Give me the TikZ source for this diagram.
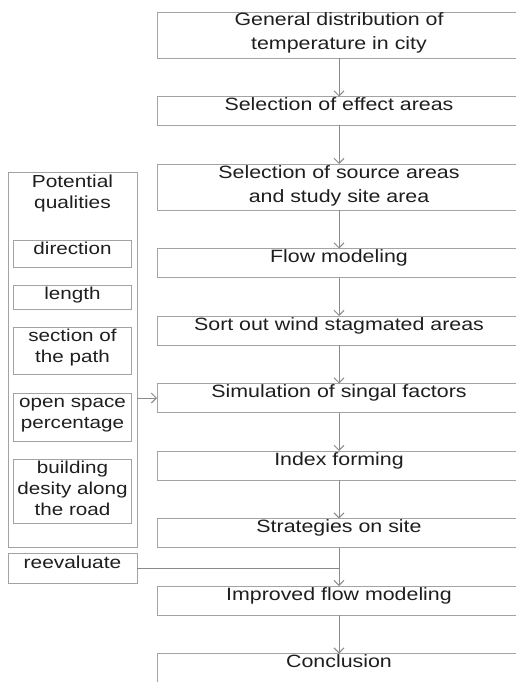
\documentclass[tikz,border=0pt]{standalone}
\usepackage{fontspec}
\setmainfont{Liberation Sans}[FakeStretch=1.2]
\usepackage{tikz}
\usetikzlibrary{arrows.meta,positioning}
\definecolor{edge}{HTML}{A3A3A3}
\definecolor{wire}{HTML}{8A8A8A}
\definecolor{ink}{HTML}{1E1E1E}

\begin{document}
\begin{tikzpicture}[
  node distance=38.5pt,
  stage/.style={draw=edge,line width=0.8pt,outer sep=0pt,anchor=north,align=center,text width=360pt,inner xsep=2pt,inner ysep=1pt,text height=13pt,text depth=#1,text=ink,font=\fontsize{17.8}{24}\selectfont},
  stage/.default=14pt,
  quality/.style={draw=edge,line width=0.8pt,outer sep=0pt,align=center,text width=114pt,inner xsep=2pt,inner ysep=1pt,text height=13pt,text depth=#1,text=ink,font=\fontsize{17.2}{21}\selectfont},
  panelbox/.style={draw=edge,line width=0.8pt,outer sep=0pt,align=center,text width=125pt,inner xsep=2pt,inner ysep=1pt,text height=14pt,text depth=#1,text=ink,font=\fontsize{17.4}{21}\selectfont},
  arr/.style={-{Straight Barb[length=5pt,width=10pt]},line width=1pt,draw=wire},
  wire/.style={line width=1pt,draw=wire}
]
\useasboundingbox (0,0) rectangle (516pt,-682pt);
% main chain
\node[stage=31pt,anchor=north] (temp) at (339pt,-12pt) {General distribution of\\temperature in city};
\node[stage,below=of temp] (effect) {Selection of effect areas};
\node[stage=31pt,below=of effect] (source) {Selection of source areas\\and study site area};
\node[stage,below=of source] (flow) {Flow modeling};
\node[stage,below=of flow] (stag) {Sort out wind stagmated areas};
\node[stage,below=of stag] (sim) {Simulation of singal factors};
\node[stage,below=of sim] (index) {Index forming};
\node[stage,below=of index] (strat) {Strategies on site};
\node[stage,below=of strat] (improved) {Improved flow modeling};
\node[stage,below=of improved] (concl) {Conclusion};
% left panel
\node[panelbox=359pt,anchor=north west] (panel) at (8pt,-172pt) {Potential\\qualities};
\node[quality=12pt,below=68pt of panel.north] (dir) {direction};
\node[quality=9pt,below=18pt of dir] (len) {length};
\node[quality=32pt,below=18pt of len] (sec) {section of\\the path};
\node[quality=33pt,below=19pt of sec] (open) {open space\\percentage};
\node[quality=49pt,below=18pt of open] (bld) {building\\desity along\\the road};
\node[panelbox=14pt,below=6pt of panel] (reeval) {reevaluate};
\coordinate (tap) at (sim.west -| panel.east);
\coordinate (join) at (reeval.east -| strat.south);
\draw[arr] (temp)--(effect);
\draw[arr] (effect)--(source);
\draw[arr] (source)--(flow);
\draw[arr] (flow)--(stag);
\draw[arr] (stag)--(sim);
\draw[arr] (sim)--(index);
\draw[arr] (index)--(strat);
\draw[arr] (strat)--(improved);
\draw[arr] (improved)--(concl);
\draw[arr] (tap)--(sim);
\draw[wire] (reeval)--(join);
\end{tikzpicture}
\end{document}
